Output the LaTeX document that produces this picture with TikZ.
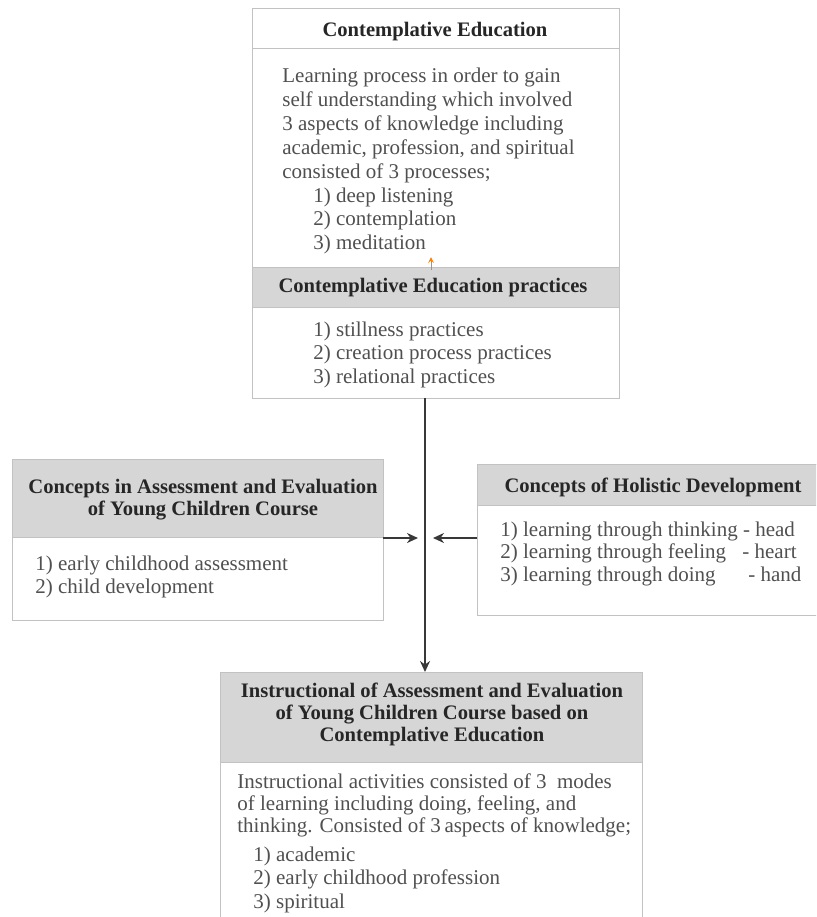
\documentclass[tikz,border=0pt]{standalone}
\usepackage{fontspec}
\setmainfont{Liberation Serif}
\usepackage{tikz}
\usetikzlibrary{calc,arrows.meta}
\tikzset{>={Stealth[length=5.5pt,width=5pt]}}

\definecolor{bandgray}{HTML}{D6D6D6}
\definecolor{framegray}{HTML}{C2C2C2}
\definecolor{headtext}{HTML}{262626}
\definecolor{bodytext}{HTML}{505050}
\definecolor{arrowgray}{HTML}{383838}

\tikzset{
  boxframe/.style={draw=framegray, line width=0.5pt, fill=white, anchor=north west, inner sep=0pt, outer sep=0pt},
  band/.style={boxframe, fill=bandgray},
  hdr/.style={font=\fontsize{10.3}{11}\selectfont\bfseries, text=headtext, inner sep=0pt, anchor=base},
  txt/.style={font=\fontsize{10.5}{12}\selectfont, text=bodytext, inner sep=0pt, anchor=base west},
  link/.style={line width=1.1pt, draw=arrowgray, ->},
}

\begin{document}
\begin{tikzpicture}[x=0.5pt, y=-0.5pt]
          \clip (0,0) rectangle (816,917);

          % Boxes
          \node[boxframe, minimum width=183.5pt, minimum height=195pt] at (252,8) (ceBox) {};
          \node[boxframe, minimum width=183.5pt, minimum height=20pt] at (252,8) (ceHead) {};
          \node[band, minimum width=183.5pt, minimum height=20pt] at (252,267) (ceBand) {};
          \node[boxframe, minimum width=185.5pt, minimum height=80.5pt] at (12,459) (assBox) {};
          \node[band, minimum width=185.5pt, minimum height=39pt] at (12,459) (assBand) {};
          \node[boxframe, minimum width=180pt, minimum height=75.5pt] at (477,464) (holBox) {};
          \node[band, minimum width=180pt, minimum height=20.5pt] at (477,464) (holBand) {};
          \node[boxframe, minimum width=211pt, minimum height=140pt] at (220,672) (instBox) {};
          \node[band, minimum width=211pt, minimum height=45pt] at (220,672) (instBand) {};

          % Contemplative Education
          \node[hdr] at (435,36) (ceTitle) {Contemplative Education};
          \foreach \t [count=\i] in {Learning process in order to gain,
              self understanding which involved,
              3 aspects of knowledge including,
              {academic, profession, and spiritual},
              consisted of 3 processes;}
            \node[txt] at (282,{58+24*\i}) (ceLine\i) {\t};
          \foreach \t [count=\i] in {1) deep listening, 2) contemplation, 3) meditation}
            \node[txt] at (313,{178.5+23.5*\i}) (ceItem\i) {\t};
          \node[hdr] at (433,292) (prTitle) {Contemplative Education practices};
          \foreach \t [count=\i] in {1) stillness practices, 2) creation process practices, 3) relational practices}
            \node[txt] at (313,{312.5+23.5*\i}) (prItem\i) {\t};
          \draw[orange, line width=0.3pt, -stealth] (431,270) -- (431,257);

          % Assessment concepts
          \foreach \t [count=\i] in {Concepts in Assessment and Evaluation, of Young Children Course}
            \node[hdr] at (203,{471+22*\i}) (assTitle\i) {\t};
          \foreach \t [count=\i] in {1) early childhood assessment, 2) child development}
            \node[txt] at (35,{547+23*\i}) (assItem\i) {\t};

          % Holistic development
          \node[hdr] at (653,492) (holTitle) {Concepts of Holistic Development};
          \node[txt] at (500,536) (holItem1) {1) learning through thinking - head};
          \node[txt] at (500,558) (holItem2) {\makebox[121pt][l]{2) learning through feeling}- heart};
          \node[txt] at (500,581) (holItem3) {\makebox[124pt][l]{3) learning through doing}- hand};

          % Instructional
          \foreach \t [count=\i] in {Instructional of Assessment and Evaluation,
              of Young Children Course based on, Contemplative Education}
            \node[hdr] at (432,{675+22*\i}) (instTitle\i) {\t};
          \node[txt] at (237,788) (instLine1) {Instructional activities consisted of 3\ \ modes};
          \node[txt] at (237,810) (instLine2) {of learning including doing, feeling, and};
          \node[txt] at (237,832) (instLine3) {thinking. Consisted of 3\,aspects of knowledge;};
          \foreach \t [count=\i] in {1) academic, 2) early childhood profession, 3) spiritual}
            \node[txt] at (253,{837.5+23.5*\i}) (instItem\i) {\t};

          % Arrows
          \coordinate (hub) at (425,538);
          \draw[link] (hub |- ceBox.south) -- (hub |- instBox.north);
          \draw[link] (assBox.east |- hub) -- ([xshift=-3.5pt]hub);
          \draw[link] (holBox.west |- hub) -- ([xshift=4pt]hub);

        \end{tikzpicture}
\end{document}
